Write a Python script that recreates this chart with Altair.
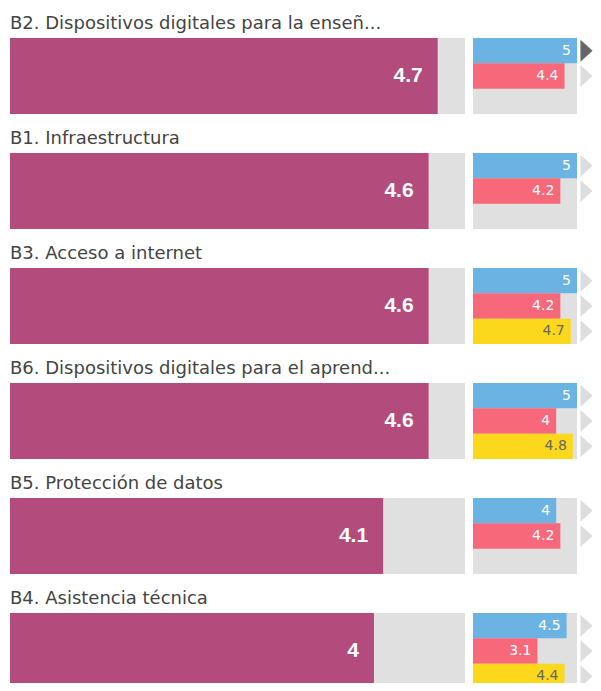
import altair as alt
import pandas as pd

titles = [
    "B2. Dispositivos digitales para la enseñ...",
    "B1. Infraestructura",
    "B3. Acceso a internet",
    "B6. Dispositivos digitales para el aprend...",
    "B5. Protección de datos",
    "B4. Asistencia técnica",
]
overall = [4.7, 4.6, 4.6, 4.6, 4.1, 4.0]
series_names = ["Serie 1", "Serie 2", "Serie 3"]
serie_1 = [5, 5, 5, 5, 4, 4.5]
serie_2 = [4.4, 4.2, 4.2, 4, 4.2, 3.1]
serie_3 = [None, None, 4.7, 4.8, None, 4.4]
selected = (0, "Serie 1")

MAX = 5
GREY = "#e0e0e0"
MAIN_COLOR = "#b34b7d"
series_colors = ["#6ab3e3", "#f7687a", "#fbd81c"]
label_colors = ["#ffffff", "#ffffff", "#666666"]
TRI_PATH = "M-0.55,-1L0.55,0L-0.55,1Z"

rows = []
for i, t in enumerate(titles):
    big_df = pd.DataFrame({"row": [t], "value": [overall[i]]})
    xb = alt.X("value:Q", scale=alt.Scale(domain=[0, MAX], nice=False), axis=None)
    yb = alt.Y("row:N", scale=alt.Scale(paddingInner=0, paddingOuter=0), axis=None)
    big_bar = alt.Chart(big_df).mark_bar(color=MAIN_COLOR).encode(x=xb, y=yb)
    big_txt = alt.Chart(big_df).mark_text(
        align="right", baseline="middle", dx=-15, font="Liberation Sans",
        fontWeight="bold", fontSize=21, color="#ffffff"
    ).encode(x=xb, y=yb, text=alt.Text("value:Q", format=".1~f"))
    big = alt.layer(big_bar, big_txt).properties(
        width=455, height=76, view=alt.ViewBackground(fill=GREY, strokeWidth=0)
    )

    vals = [serie_1[i], serie_2[i], serie_3[i]]
    recs = []
    for k, (s, v) in enumerate(zip(series_names, vals)):
        if v is None:
            continue
        recs.append({
            "series": s,
            "value": v,
            "label_color": label_colors[k],
            "tri_color": "#666666" if (i, s) == selected else "#dddddd",
        })
    sdf = pd.DataFrame(recs)
    xs = alt.X("value:Q", scale=alt.Scale(domain=[0, MAX], nice=False), axis=None)
    ys = alt.Y("series:N", scale=alt.Scale(domain=series_names, paddingInner=0, paddingOuter=0), axis=None)
    s_bar = alt.Chart(sdf).mark_bar().encode(
        x=xs, y=ys,
        color=alt.Color("series:N", scale=alt.Scale(domain=series_names, range=series_colors), legend=None),
    )
    s_txt = alt.Chart(sdf).mark_text(
        align="right", baseline="middle", dx=-6, font="DejaVu Sans", fontSize=14
    ).encode(x=xs, y=ys, text=alt.Text("value:Q", format=".1~f"),
             color=alt.Color("label_color:N", scale=None))
    small = alt.layer(s_bar, s_txt).properties(
        width=104, height=76, view=alt.ViewBackground(fill=GREY, strokeWidth=0)
    )

    tri = alt.Chart(sdf).mark_point(
        shape=TRI_PATH, filled=True, size=484, opacity=1, strokeWidth=0
    ).encode(
        x=alt.value(6.5), y=ys, color=alt.Color("tri_color:N", scale=None)
    ).properties(width=13, height=76, view=alt.ViewBackground(strokeWidth=0))

    row = alt.hconcat(
        big, alt.hconcat(small, tri, spacing=3), spacing=8,
        title=alt.TitleParams(text=t, anchor="start", font="DejaVu Sans", fontSize=18,
                              fontWeight="normal", color="#444444", offset=5),
    )
    rows.append(row)

chart = alt.vconcat(*rows, spacing=16).properties(
    padding={"left": 2, "top": 7, "right": 0, "bottom": -6}
).configure_view(strokeWidth=0)

chart.save("out.html", embed_options={"renderer": "svg", "actions": False})
